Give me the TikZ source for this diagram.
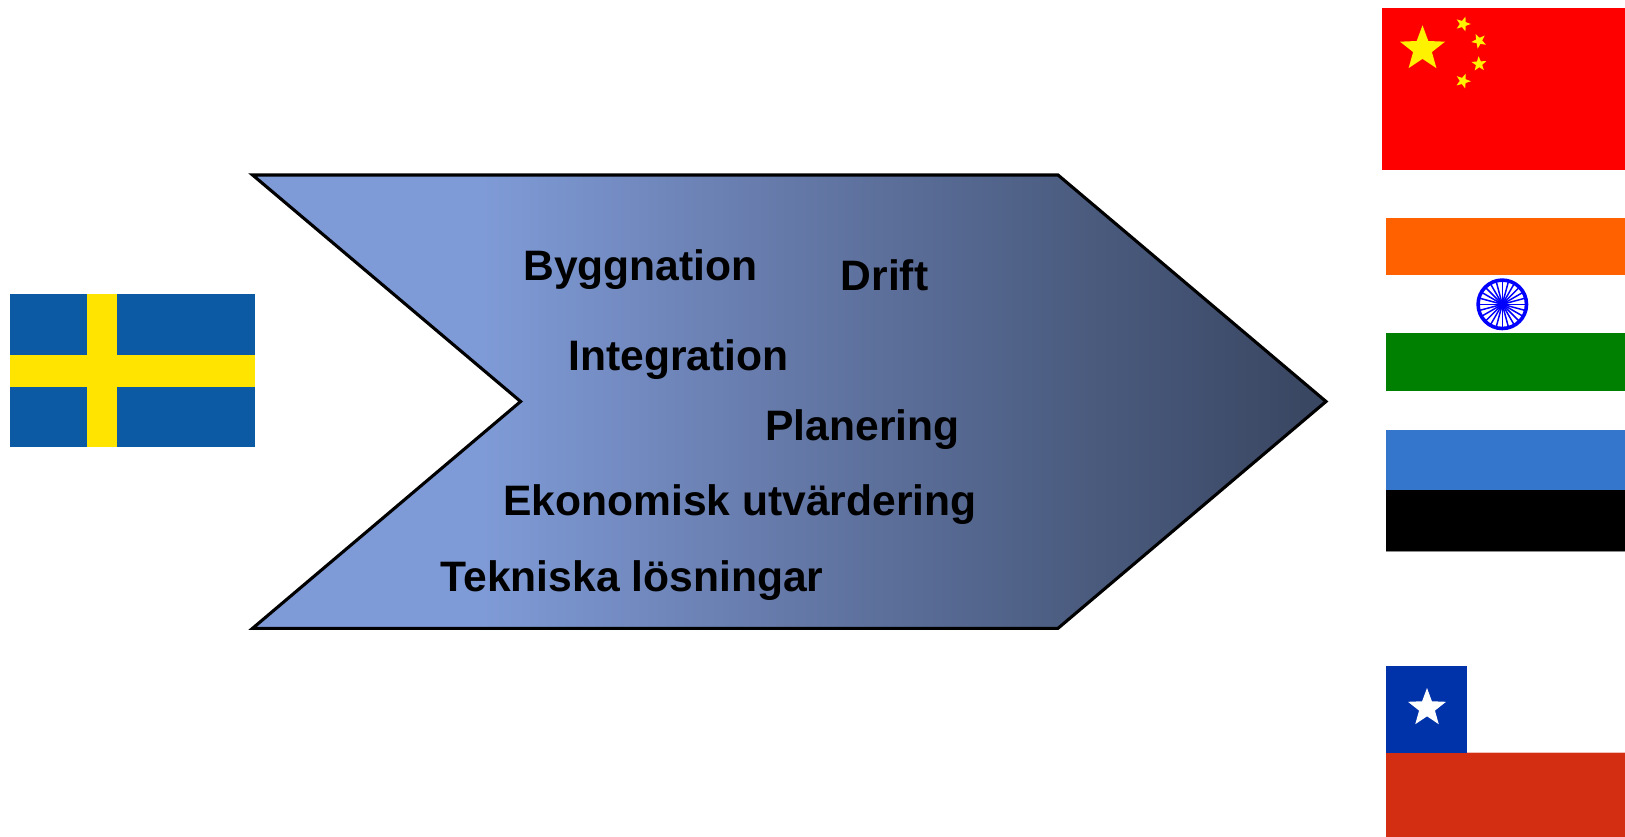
\documentclass[tikz,border=0pt]{standalone}
\usepackage{fontspec}
\setmainfont{Liberation Sans}
\usetikzlibrary{shapes.geometric}
\definecolor{stopA}{HTML}{7F9BD7}
\definecolor{stopB}{HTML}{667AAA}
\definecolor{stopC}{HTML}{4E6085}
\definecolor{stopD}{HTML}{3A4763}
\definecolor{sweblue}{HTML}{0D5AA4}
\definecolor{sweyel}{HTML}{FFE400}
\definecolor{indorange}{HTML}{FF6100}
\definecolor{indgreen}{HTML}{008000}
\definecolor{estblue}{HTML}{3376CC}
\definecolor{chiblue}{HTML}{0033AA}
\definecolor{chired}{HTML}{D42E12}
\pgfdeclarehorizontalshading{arrowshade}{100bp}{
  color(0bp)=(stopA); color(35.6bp)=(stopA); color(49.5bp)=(stopB); color(61.5bp)=(stopC); color(74bp)=(stopD); color(100bp)=(stopD)}
\tikzset{
  x=1pt,y=-1pt,
  lab/.style={font=\bfseries\fontsize{42.6}{46}\selectfont,text=black,inner sep=0pt,anchor=base},
  flagstarstyle/.style={star,star points=5,star point ratio=2.4,fill=#1,draw=none,inner sep=0pt,minimum size=0pt},
  band/.style={fill=#1,draw=none}
}
\newcommand{\flagstar}[5]{\node[flagstarstyle=#4,minimum size=#3*2pt,rotate=#5] (#1) at (#2) {};}
\begin{document}
\begin{tikzpicture}
\useasboundingbox (0,0) rectangle (1625,837);
% Sweden
\fill[band=sweblue] (10,294) rectangle (255,447);
\fill[band=sweyel] (86.7,294) rectangle (117,447);
\fill[band=sweyel] (10,355.3) rectangle (255,386.7);
% Arrow
\path[shading=arrowshade,shading angle=0,draw=black,line width=3.1pt,line join=miter,miter limit=10]
  (252.6,175) -- (1058,175) -- (1326,401.5) -- (1058,628.3) -- (252.6,628.3) -- (520.6,401.5) -- cycle;
\node[lab] (t1) at (640.5,280) {Byggnation};
\node[lab] (t2) at (884.5,290) {Drift};
\node[lab] (t3) at (678.5,370) {Integration};
\node[lab] (t4) at (862.5,440) {Planering};
\node[lab] (t5) at (740,515) {Ekonomisk utvärdering};
\node[lab] (t6) at (632,591) {Tekniska lösningar};
% China
\fill[red] (1382,8) rectangle (1625,170);
\flagstar{c0}{1422.5,49}{23.7}{yellow}{0}
\flagstar{c1}{1463,24}{7.8}{yellow}{-18}
\flagstar{c2}{1479,41}{7.8}{yellow}{26}
\flagstar{c3}{1479,64}{7.8}{yellow}{3}
\flagstar{c4}{1463,81}{7.8}{yellow}{-20}
% India
\fill[band=indorange] (1386,218) rectangle (1625,274.7);
\fill[band=indgreen] (1386,333.3) rectangle (1625,391);
\draw[blue,line width=3.6pt] (1502.3,304.3) circle (24.2);
\foreach \a in {0,15,...,345}{
  \draw[blue,line width=1.5pt] (1502.3,304.3) -- ++(\a:24);
}
\fill[blue] (1502.3,304.3) circle (3);
% Estonia
\fill[band=estblue] (1386,430) rectangle (1625,490);
\fill[black] (1386,490) rectangle (1625,550.5);
\fill[black!45] (1386,550.5) rectangle (1625,551.8);
% Chile
\fill[band=chiblue] (1386,666) rectangle (1467.3,752.7);
\fill[band=chired] (1386,752.7) rectangle (1625,837);
\fill[chired!30] (1467.3,751.6) rectangle (1625,752.7);
\flagstar{s0}{1427,708}{20}{white}{0}
\end{tikzpicture}
\end{document}
